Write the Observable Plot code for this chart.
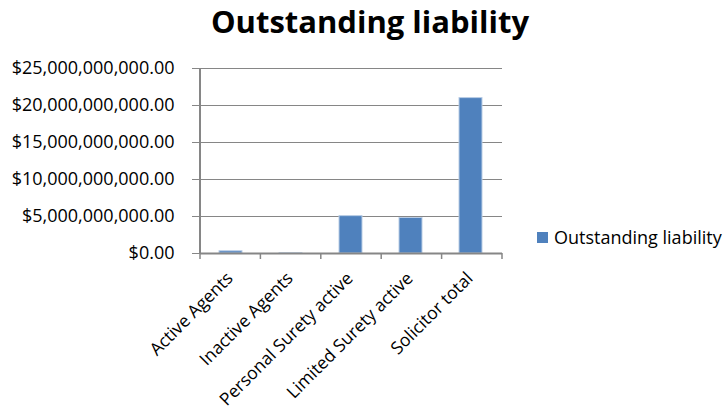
<!DOCTYPE html>
<html>
<head>
<meta charset="utf-8">
<script src="https://cdn.jsdelivr.net/npm/d3@7"></script>
<script src="https://cdn.jsdelivr.net/npm/@observablehq/plot@0.6"></script>
<style>
  html, body { margin: 0; padding: 0; background: #fff; }
  #wrap { position: relative; width: 725px; height: 412px; font-family: "Open Sans", sans-serif; }
  #title { position: absolute; left: 0; width: 740px; top: 0px; text-align: center; font-size: 31px; font-weight: bold; color: #000; }
  #legend { position: absolute; left: 537px; top: 225px; font-size: 18px; color: #000; display: flex; align-items: center; }
  #legend .sw { width: 11px; height: 11px; background: #4F81BD; margin-right: 6px; }
  #chart { position: absolute; left: 0; top: 0; }
</style>
</head>
<body>
<div id="wrap">
  <div id="chart"></div>
  <div id="title">Outstanding liability</div>
  <div id="legend"><span class="sw"></span><span>Outstanding liability</span></div>
</div>
<script>
const categories = ["Active Agents", "Inactive Agents", "Personal Surety active", "Limited Surety active", "Solicitor total"];
const values = [300000000, 20000000, 5050000000, 4800000000, 21000000000];
const yTicks = [0, 5e9, 10e9, 15e9, 20e9, 25e9];
const seriesName = "Outstanding liability";

const data = categories.map((c, i) => ({category: c, value: values[i]}));
const fmt = v => "$" + d3.format(",.2f")(v);

const chart = Plot.plot({
  width: 725,
  height: 412,
  marginLeft: 200,
  marginRight: 223,
  marginTop: 68,
  marginBottom: 159,
  style: {fontFamily: "Open Sans, sans-serif", fontSize: "18px", color: "#000", background: "transparent"},
  x: {domain: categories, paddingInner: 0.61, paddingOuter: 0.305, align: 0.5, label: null, axis: null},
  y: {domain: [0, 25e9], label: null},
  marks: [
    Plot.ruleY(yTicks, {stroke: "#868686", strokeWidth: 1}),
    Plot.barY(data, {x: "category", y: "value", fill: "#4F81BD", stroke: "#B9CDE5", strokeWidth: 1}),
    Plot.axisY({ticks: yTicks, tickFormat: fmt, tickSize: 8, tickPadding: 18, stroke: "#868686", strokeWidth: 1, fill: "#000", label: null}),
    Plot.ruleY([0], {stroke: "#868686", strokeWidth: 2}),
    Plot.text(categories, {x: d => d, y: () => 0, text: d => d, rotate: -45, textAnchor: "end", fontSize: 17.5, fill: "#000", dx: -1, dy: 22})
  ]
});
document.getElementById("chart").appendChild(chart);

// y-axis line and x-axis band-boundary ticks, positioned from Plot's scales
const svg = d3.select(chart);
const xs = chart.scale("x");
const ys = chart.scale("y");
const xLeft = xs.range[0];
const xRight = xs.range[1];
const yBase = ys.apply(0);
const yTop = ys.apply(25e9);
const g = svg.append("g").attr("stroke", "#868686");
g.append("line").attr("x1", xLeft).attr("x2", xLeft).attr("y1", yTop).attr("y2", yBase).attr("stroke-width", 2);
d3.range(categories.length + 1).forEach(i => {
  const x = xLeft + i * (xRight - xLeft) / categories.length;
  g.append("line").attr("x1", x).attr("x2", x).attr("y1", yBase).attr("y2", yBase + 6).attr("stroke-width", 1.5);
});
</script>
</body>
</html>
